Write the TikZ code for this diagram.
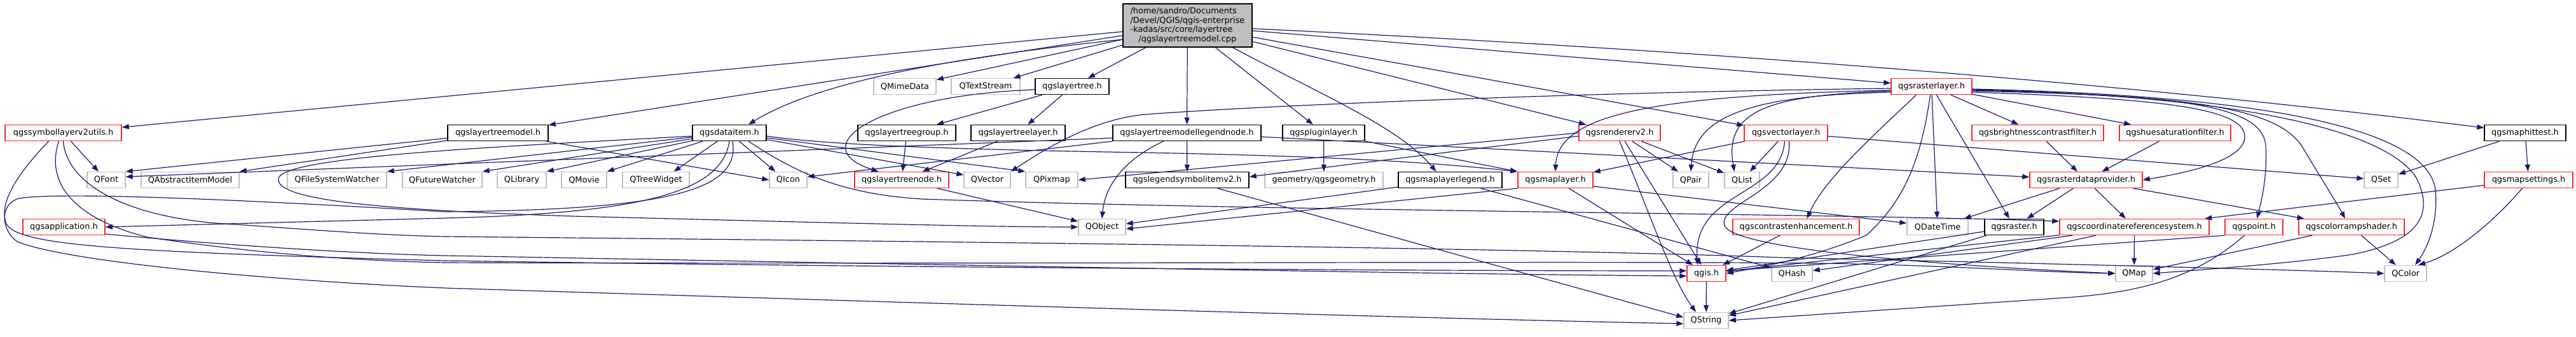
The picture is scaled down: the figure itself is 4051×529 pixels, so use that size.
\documentclass[tikz,border=0pt]{standalone}
\usepackage{fontspec}
\newfontfamily\dxfont{DejaVu Sans}
\usetikzlibrary{arrows.meta}
\definecolor{dxblue}{RGB}{25,25,112}
\definecolor{dxred}{RGB}{255,40,40}
\definecolor{dxgray}{RGB}{191,191,191}
\tikzset{
  inc/.style={rectangle, draw=black, fill=white, line width=0.4pt,
    inner sep=0pt, minimum height=0.25cm,
    font=\dxfont\fontsize{3.67}{4.15}\selectfont},
  incR/.style={inc, draw=dxred},
  incQ/.style={inc, draw=dxgray},
  incTop/.style={inc, fill=dxgray, align=left, minimum height=0.68cm},
  arr/.style={-{Triangle[length=1.1mm, width=0.8mm]}, draw=dxblue,
    line width=0.34pt},
}

\begin{document}
\begin{tikzpicture}[x=0.01cm, y=-0.01cm]
  \useasboundingbox (0,0) rectangle (4051,529);

  % ---- source file ----
  \node[incTop, minimum width=2.03cm] (root) at (1867.5,40)
        {/home/sandro/Documents\\/Devel/QGIS/qgis-enterprise\\-kadas/src/core/layertree\\\hspace*{0.13cm}/qgslayertreemodel.cpp};

  % ---- row 1 ----
  \node[incQ, minimum width=0.98cm] (qmimedata)   at (1423,136)   {QMimeData};
  \node[incQ, minimum width=1.08cm] (qtextstream) at (1550,136)   {QTextStream};
  \node[inc,  minimum width=1.16cm] (lt)          at (1686,136)   {qgslayertree.h};
  \node[incR, minimum width=1.27cm] (rl)          at (3037.5,136) {qgsrasterlayer.h};

  % ---- row 2 ----
  \node[incR, minimum width=1.83cm] (symutils) at (99.5,209)   {qgssymbollayerv2utils.h};
  \node[inc,  minimum width=1.58cm] (ltmodel)  at (783,209)    {qgslayertreemodel.h};
  \node[inc,  minimum width=1.16cm] (dataitem) at (1147,209)   {qgsdataitem.h};
  \node[inc,  minimum width=1.54cm] (ltgroup)  at (1426,209)   {qgslayertreegroup.h};
  \node[inc,  minimum width=1.48cm] (ltlayer)  at (1601,209)   {qgslayertreelayer.h};
  \node[inc,  minimum width=2.33cm] (legnode)  at (1866.5,209) {qgslayertreemodellegendnode.h};
  \node[inc,  minimum width=1.29cm] (plugin)   at (2081.5,209) {qgspluginlayer.h};
  \node[incR, minimum width=1.28cm] (renderer) at (2547,209)   {qgsrendererv2.h};
  \node[incR, minimum width=1.31cm] (vlayer)   at (2808.5,209) {qgsvectorlayer.h};
  \node[incR, minimum width=2.07cm] (bcfilter) at (3204.5,209) {qgsbrightnesscontrastfilter.h};
  \node[incR, minimum width=1.75cm] (hsfilter) at (3420.5,209) {qgshuesaturationfilter.h};
  \node[inc,  minimum width=1.28cm] (hittest)  at (3971,209)   {qgsmaphittest.h};

  % ---- row 3 ----
  \node[incQ, minimum width=0.60cm] (qfont)       at (167,283)    {QFont};
  \node[incQ, minimum width=1.54cm] (qaim)        at (299,283)    {QAbstractItemModel};
  \node[incQ, minimum width=1.56cm] (qfsw)        at (530,283)    {QFileSystemWatcher};
  \node[incQ, minimum width=1.25cm] (qfw)         at (695.5,283)  {QFutureWatcher};
  \node[incQ, minimum width=0.77cm] (qlib)        at (820.5,283)  {QLibrary};
  \node[incQ, minimum width=0.71cm] (qmovie)      at (918.5,283)  {QMovie};
  \node[incQ, minimum width=1.05cm] (qtw)         at (1031.5,283) {QTreeWidget};
  \node[incQ, minimum width=0.59cm] (qicon)       at (1239.5,283) {QIcon};
  \node[incR, minimum width=1.48cm] (ltnode)      at (1418,283)   {qgslayertreenode.h};
  \node[incQ, minimum width=0.73cm] (qvector)     at (1552.5,283) {QVector};
  \node[incQ, minimum width=0.82cm] (qpixmap)     at (1654,283)   {QPixmap};
  \node[inc,  minimum width=1.94cm] (legsym)      at (1867,283)   {qgslegendsymbolitemv2.h};
  \node[incQ, minimum width=1.86cm] (geom)        at (2082,283)   {geometry/qgsgeometry.h};
  \node[inc,  minimum width=1.63cm] (mllegend)    at (2280.5,283) {qgsmaplayerlegend.h};
  \node[incR, minimum width=1.18cm] (maplayer)    at (2446,283)   {qgsmaplayer.h};
  \node[incQ, minimum width=0.56cm] (qpair)       at (2659,283)   {QPair};
  \node[incQ, minimum width=0.55cm] (qlist)       at (2739.5,283) {QList};
  \node[incR, minimum width=1.77cm] (rdp)         at (3280.5,283) {qgsrasterdataprovider.h};
  \node[incQ, minimum width=0.53cm] (qset)        at (3744.5,283) {QSet};
  \node[incR, minimum width=1.39cm] (mapsettings) at (3976.5,283) {qgsmapsettings.h};

  % ---- row 4 ----
  \node[incR, minimum width=1.29cm] (app)       at (100.5,357)  {qgsapplication.h};
  \node[incQ, minimum width=0.74cm] (qobject)   at (1733,357)   {QObject};
  \node[incR, minimum width=1.99cm] (contrast)  at (2824.5,357) {qgscontrastenhancement.h};
  \node[incQ, minimum width=0.96cm] (qdatetime) at (3047,357)   {QDateTime};
  \node[inc,  minimum width=0.93cm] (raster)    at (3167.5,357) {qgsraster.h};
  \node[incR, minimum width=2.35cm] (crs)       at (3356.5,357) {qgscoordinatereferencesystem.h};
  \node[incR, minimum width=0.91cm] (point)     at (3544.5,357) {qgspoint.h};
  \node[incR, minimum width=1.66cm] (crshader)  at (3698,357)   {qgscolorrampshader.h};

  % ---- row 5 and 6 ----
  \node[incR, minimum width=0.61cm] (qgis)    at (2683.5,430) {qgis.h};
  \node[incQ, minimum width=0.64cm] (qhash)   at (2818,430)   {QHash};
  \node[incQ, minimum width=0.58cm] (qmap)    at (3356,430)   {QMap};
  \node[incQ, minimum width=0.66cm] (qcolor)  at (3783,430)   {QColor};
  \node[incQ, minimum width=0.70cm] (qstring) at (2683,504)   {QString};

  % ---- Arrows: source file ----
  \draw[arr] (root) -- (symutils);
  \draw[arr] (root) -- (ltmodel);
  \draw[arr] ([yshift=-0.22cm]root.west) .. controls (1550,85) and (1300,120) .. ([xshift=0.3cm]dataitem.north);
  \draw[arr] (root) -- (qmimedata);
  \draw[arr] (root) -- (qtextstream);
  \draw[arr] (root) -- (lt);
  \draw[arr] (root) -- (legnode);
  \draw[arr] (root) -- (plugin);
  \draw[arr] ([xshift=0.71cm]root.south) .. controls (2080,150) and (2200,200) .. ([xshift=-0.22cm]mllegend.north);
  \draw[arr] (root) -- (renderer);
  \draw[arr] (root) -- (vlayer);
  \draw[arr] (root) -- (rl);
  \draw[arr] ([yshift=-0.05cm]root.east) .. controls (2600,75) and (3300,125) .. ([yshift=0.08cm]hittest.west);

  % ---- Arrows: layer tree ----
  \draw[arr] (lt) -- (ltgroup);
  \draw[arr] (lt) -- (ltlayer);
  \draw[arr] ([yshift=-0.05cm]lt.west) .. controls (1380,150) and (1260,230) .. ([xshift=0.38cm]ltnode.north west);
  \draw[arr] (ltgroup) -- (ltnode);
  \draw[arr] (ltlayer) -- (ltnode);
  \draw[arr] (ltnode) -- (qobject);
  \draw[arr] (ltmodel) -- (qfont.north east);
  \draw[arr] (ltmodel) -- (qaim.north east);
  \draw[arr] (ltmodel) -- (qicon.west);

  % ---- Arrows: data item ----
  \draw[arr] (dataitem) -- (qfsw.north east);
  \draw[arr] (dataitem) -- (qfw.north east);
  \draw[arr] (dataitem) -- (qlib.north east);
  \draw[arr] (dataitem) -- (qmovie.north east);
  \draw[arr] (dataitem) -- ([xshift=-0.25cm]qtw.north east);
  \draw[arr] (dataitem) -- ([xshift=0.1cm]qicon.north west);
  \draw[arr] (dataitem) -- ([yshift=0.08cm]qvector.west);
  \draw[arr] (dataitem) -- (qpixmap.north west);
  \draw[arr] ([yshift=-0.05cm]dataitem.east) .. controls (1300,228) and (1500,235) .. (1800,240)
             .. controls (2100,246) and (2250,255) .. (maplayer.north west);
  \draw[arr] ([yshift=-0.05cm]dataitem.west) .. controls (800,230) and (450,245) .. (438,280)
             .. controls (430,315) and (600,330) .. (900,340)
             .. controls (1300,350) and (1550,357) .. (qobject.west);
  \draw[arr] (dataitem.south) .. controls (1135,300) and (1020,335) .. (700,343) -- (app.east);
  \draw[arr] ([xshift=0.05cm]dataitem.south) .. controls (1165,300) and (1050,330) .. (700,333)
             .. controls (450,318) and (100,300) .. (30,312)
             .. controls (0,320) and (0,360) .. (27,380)
             .. controls (100,410) and (400,440) .. (700,453)
             .. controls (1400,475) and (2200,500) .. ([yshift=-0.05cm]qstring.west);
  \draw[arr] ([xshift=0.3cm]dataitem.south) .. controls (1250,270) and (1320,305) .. (1450,313)
             .. controls (2000,332) and (2900,336) .. ([yshift=0.09cm]crs.west);

  % ---- Arrows: symbol utils, application ----
  \draw[arr] (symutils) -- (qfont);
  \draw[arr] ([xshift=-0.23cm]symutils.south) .. controls (40,260) and (0,310) .. (8,345)
             .. controls (10,385) and (150,395) .. (700,410)
             .. controls (1500,422) and (2300,426) .. ([yshift=0.04cm]qgis.west);
  \draw[arr] ([xshift=-0.07cm]symutils.south) .. controls (70,290) and (120,345) .. (232,373)
             .. controls (400,398) and (550,410) .. (700,413)
             .. controls (1500,416) and (2500,410) .. (2850,414)
             .. controls (3050,416) and (3200,428) .. (qmap.west);
  \draw[arr] (symutils.south) .. controls (105,290) and (200,345) .. (371,353)
             .. controls (500,362) and (600,370) .. (700,372)
             .. controls (1500,380) and (2400,390) .. (2800,405)
             .. controls (3200,414) and (3600,424) .. (qcolor.west);
  \draw[arr] ([yshift=-0.11cm]app.east) .. controls (400,390) and (600,400) .. (700,402)
             .. controls (1400,415) and (2300,432) .. ([yshift=-0.04cm]qgis.west);

  % ---- Arrows: legend node, plugin, map layer ----
  \draw[arr] ([yshift=-0.08cm]legnode.west) -- ([yshift=0.05cm]qfont.east);
  \draw[arr] (legnode.south west) -- ([yshift=0.05cm]qicon.east);
  \draw[arr] ([xshift=-0.37cm]legnode.south) .. controls (1770,250) and (1738,290) .. (qobject.north);
  \draw[arr] (legnode) -- (legsym);
  \draw[arr] (legnode) -- (rdp);
  \draw[arr] (legsym) -- ([yshift=0.05cm]qstring.west);
  \draw[arr] (plugin) -- (geom);
  \draw[arr] (plugin) -- (maplayer.north west);
  \draw[arr] (mllegend) -- ([yshift=0.05cm]qobject.east);
  \draw[arr] (mllegend) -- (qhash);
  \draw[arr] (maplayer.south west) -- ([yshift=-0.03cm]qobject.east);
  \draw[arr] (maplayer) -- (qgis);
  \draw[arr] ([yshift=-0.1cm]maplayer.east) -- ([yshift=0.06cm]qdatetime.west);

  % ---- Arrows: renderer, vector layer ----
  \draw[arr] (renderer.west) -- (qpixmap.east);
  \draw[arr] ([yshift=-0.05cm]renderer.west) -- ([yshift=0.05cm]legsym.east);
  \draw[arr] (renderer) -- (qpair);
  \draw[arr] (renderer) -- (qlist);
  \draw[arr] (renderer) -- (qgis);
  \draw[arr] (renderer.south) .. controls (2600,350) and (2630,440) .. ([xshift=-0.16cm]qstring.north);
  \draw[arr] (vlayer) -- (maplayer);
  \draw[arr] (vlayer) -- (qlist);
  \draw[arr] (vlayer) -- (qset);
  \draw[arr] ([xshift=-0.02cm]vlayer.south) .. controls (2800,310) and (2662,300) .. ([xshift=-0.14cm]qgis.north);
  \draw[arr] ([xshift=0.05cm]vlayer.south) .. controls (2820,300) and (2700,320) .. (2712,355)
             .. controls (2730,395) and (3100,420) .. (qmap.west);

  % ---- Arrows: raster layer ----
  \draw[arr] ([yshift=-0.03cm]rl.west) .. controls (2500,145) and (2000,165) .. (1800,180)
             .. controls (1720,188) and (1650,230) .. (qvector.north east);
  \draw[arr] ([yshift=-0.06cm]rl.west) .. controls (2600,150) and (2450,180) .. (maplayer.north);
  \draw[arr] ([yshift=-0.09cm]rl.west) .. controls (2760,150) and (2665,180) .. (qpair.north);
  \draw[arr] ([yshift=-0.07cm]rl.west) .. controls (2790,150) and (2710,170) .. ([xshift=-0.12cm]qlist.north);
  \draw[arr] ([xshift=0.4cm]rl.south west) .. controls (2950,210) and (2870,280) .. ([xshift=0.17cm]contrast.north);
  \draw[arr] ([xshift=-0.02cm]rl.south) .. controls (3020,260) and (2990,320) .. (2935,370)
             .. controls (2850,405) and (2780,418) .. (qgis.east);
  \draw[arr] (rl) -- (qdatetime);
  \draw[arr] (rl) -- (raster);
  \draw[arr] (rl) -- (bcfilter);
  \draw[arr] (rl) -- (hsfilter);
  \draw[arr] ([yshift=-0.09cm]rl.east) .. controls (3400,155) and (3530,170) .. (3530,215)
             .. controls (3530,250) and (3450,270) .. (rdp.east);
  \draw[arr] ([yshift=-0.07cm]rl.east) .. controls (3400,150) and (3560,160) .. (3563,230)
             .. controls (3566,280) and (3555,320) .. ([xshift=0.05cm]point.north);
  \draw[arr] ([yshift=-0.06cm]rl.east) .. controls (3450,150) and (3580,170) .. (3620,230)
             .. controls (3650,280) and (3675,320) .. ([xshift=-0.1cm]crshader.north);
  \draw[arr] ([yshift=-0.05cm]rl.east) .. controls (3500,150) and (3750,200) .. (3800,280)
             .. controls (3830,340) and (3800,380) .. (3700,400)
             .. controls (3600,415) and (3450,425) .. (qmap.east);
  \draw[arr] ([yshift=-0.04cm]rl.east) .. controls (3550,150) and (3820,200) .. (3830,300)
             .. controls (3835,360) and (3810,400) .. ([xshift=0.15cm]qcolor.north);

  % ---- Arrows: raster provider and the rest ----
  \draw[arr] (bcfilter) -- (rdp);
  \draw[arr] (hsfilter) -- (rdp);
  \draw[arr] (rdp) -- (qdatetime);
  \draw[arr] (rdp) -- (raster);
  \draw[arr] (rdp) -- (crs);
  \draw[arr] (rdp) -- (crshader);
  \draw[arr] (hittest) -- (qset);
  \draw[arr] (hittest) -- (mapsettings);
  \draw[arr] (mapsettings) -- (crs);
  \draw[arr] ([xshift=-0.1cm]mapsettings.south) .. controls (3920,350) and (3860,400) .. ([xshift=0.2cm]qcolor.north);
  \draw[arr] (contrast) -- (qgis);
  \draw[arr] (raster) -- (qgis);
  \draw[arr] (raster) -- (qstring);
  \draw[arr] (crs) -- (qgis);
  \draw[arr] (crs) -- (qhash);
  \draw[arr] (crs) -- (qstring);
  \draw[arr] (crs) -- (qmap);
  \draw[arr] (point.south west) -- ([yshift=0.04cm]qgis.east);
  \draw[arr] ([xshift=-0.15cm]point.south) .. controls (3450,440) and (3360,460) .. (3250,468) -- (qstring.east);
  \draw[arr] (crshader) -- (qmap);
  \draw[arr] (crshader) -- (qcolor);
  \draw[arr] (qgis) -- (qstring);
\end{tikzpicture}
\end{document}
